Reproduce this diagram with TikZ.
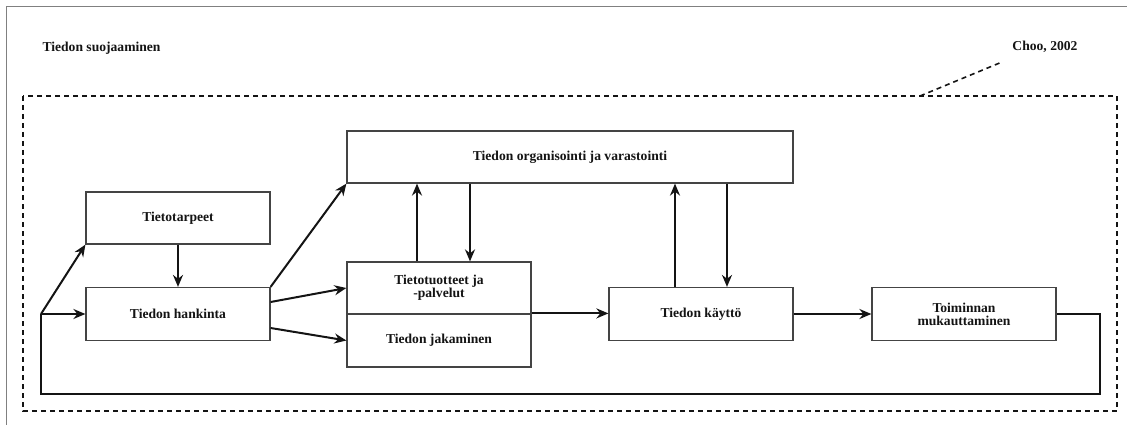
\documentclass[tikz,border=0pt]{standalone}
\usepackage{fontspec}
\setmainfont{Liberation Serif}
\usetikzlibrary{arrows.meta}
\definecolor{ink}{HTML}{141414}
\definecolor{boxline}{HTML}{444444}
\definecolor{pageline}{HTML}{808080}
\tikzset{
  lbl/.style={font=\fontsize{13.6}{13}\selectfont\bfseries, text=ink, align=center},
  box/.style={lbl, draw=boxline, line width=1.2pt, fill=white, inner sep=2pt},
  arr/.style={draw=ink, line width=2pt, -{Stealth[length=12pt,width=10pt]}},
  link/.style={draw=ink, line width=2pt},
  frame/.style={draw=ink, line width=1.6pt, dash pattern=on 5pt off 4pt}
}
\begin{document}
\begin{tikzpicture}[x=1pt,y=-1pt]
\useasboundingbox (0,0) rectangle (1127,425);
% page edges
\draw[pageline, line width=1pt] (6,425) -- (6,7) -- (1127,7);

% dashed enclosure with callout line
\draw[frame] (23,96) rectangle (1117,411);
\coordinate (calloutA) at (920,96);
\coordinate (calloutB) at (1002,62);
\draw[frame] (calloutA) -- (calloutB);

\node[lbl, anchor=west] (suoja) at (39,48) {Tiedon suojaaminen};
\node[lbl, anchor=east] (choo) at (1081,47) {Choo, 2002};

% process boxes
\node[box, minimum width=184pt, minimum height=52pt] (tarpeet) at (178,218) {Tietotarpeet};
\node[box, minimum width=184pt, minimum height=53pt] (hankinta) at (178,314) {Tiedon hankinta};
\node[box, minimum width=446pt, minimum height=52pt] (org) at (570,157) {Tiedon organisointi ja varastointi};
\node[box, minimum width=184pt, minimum height=52pt] (tuotteet) at (439,288) {Tietotuotteet ja\\-palvelut};
\node[box, minimum width=184pt, minimum height=53pt] (jakaminen) at (439,340.5) {Tiedon jakaminen};
\node[box, minimum width=184pt, minimum height=53pt] (kaytto) at (701,314) {Tiedon käyttö};
\node[box, minimum width=184pt, minimum height=53pt] (toim) at (964,314) {Toiminnan\\mukauttaminen};

% feedback loop
\coordinate (branch) at (41,314);
\coordinate (loopR) at (1100,394);
\coordinate (loopL) at (41,394);
\draw[link, line join=miter] (toim.east) -| (loopR) -- (loopL) -- (branch);
\draw[arr] (branch) -- (hankinta.west);
\draw[arr] (branch) -- (tarpeet.south west);

% flows
\draw[arr] (tarpeet.south) -- (hankinta.north);
\draw[arr] (hankinta.north east) -- (org.south west);
\draw[arr] ([yshift=12pt]hankinta.east) -- (tuotteet.west);
\draw[arr] ([yshift=-14pt]hankinta.east) -- (jakaminen.west);
\draw[arr] ([xshift=-22pt]tuotteet.north) -- ([xshift=-22pt]tuotteet.north |- org.south);
\draw[arr] ([xshift=31pt]tuotteet.north |- org.south) -- ([xshift=31pt]tuotteet.north);
\draw[arr] (jakaminen.north east) -- (jakaminen.north east -| kaytto.west);
\draw[arr] ([xshift=-26pt]kaytto.north) -- ([xshift=-26pt]kaytto.north |- org.south);
\draw[arr] ([xshift=26pt]kaytto.north |- org.south) -- ([xshift=26pt]kaytto.north);
\draw[arr] (kaytto.east) -- (toim.west);
\end{tikzpicture}
\end{document}
